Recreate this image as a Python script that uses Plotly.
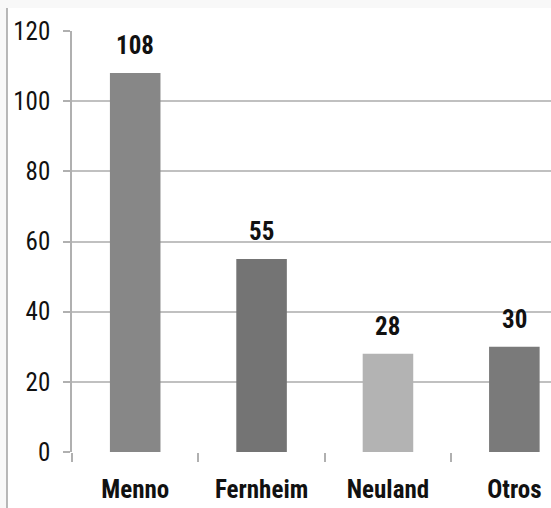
import plotly.graph_objects as go

# Data
categories = ["Menno", "Fernheim", "Neuland", "Otros"]
values = [108, 55, 28, 30]
bar_colors = ["#878787", "#747474", "#b3b3b3", "#7a7a7a"]
y_ticks = [0, 20, 40, 60, 80, 100, 120]

FONT = "Roboto Condensed, Liberation Sans Narrow, sans-serif"

fig = go.Figure()
fig.add_trace(go.Bar(
    x=categories,
    y=values,
    marker=dict(color=bar_colors, line=dict(width=0)),
    width=0.4,
    hoverinfo="x+y",
))

# value labels above the bars
for cat, val in zip(categories, values):
    fig.add_annotation(
        x=cat, y=val, text=f"<b>{val}</b>", showarrow=False,
        yanchor="bottom", yshift=11,
        font=dict(family=FONT, size=25, color="#111111"),
    )

# light frame strips along the top and left edges
fig.add_shape(type="rect", xref="paper", yref="paper",
              x0=-72 / 479, x1=1.0, y0=1 + 23 / 421, y1=1 + 31 / 421,
              fillcolor="#f8f8f8", line_width=0, layer="below")
fig.add_shape(type="rect", xref="paper", yref="paper",
              x0=-72 / 479, x1=-65 / 479, y0=-56 / 421, y1=1 + 31 / 421,
              fillcolor="#f8f8f8", line_width=0, layer="below")
fig.add_shape(type="line", xref="paper", yref="paper",
              x0=-65 / 479, x1=-65 / 479, y0=-56 / 421, y1=1 + 23 / 421,
              line=dict(color="#a0a0a0", width=1.5))

fig.update_layout(
    width=551, height=508,
    margin=dict(l=72, r=0, t=31, b=56),
    paper_bgcolor="white", plot_bgcolor="white",
    showlegend=False,
    bargap=0.6,
    xaxis=dict(
        type="category",
        range=[-0.5, 3.29],
        tickson="boundaries",
        ticks="outside", ticklen=9, tickcolor="#b0b0b0", tickwidth=1.5,
        showgrid=False, showline=False, zeroline=False,
        tickfont=dict(family=FONT, size=25, color="#111111", weight="bold"),
        ticklabelstandoff=20,
    ),
    yaxis=dict(
        range=[0, 120],
        tickvals=y_ticks,
        ticks="outside", ticklen=7, tickcolor="#b0b0b0", tickwidth=1.5,
        showgrid=True, gridcolor="#c0c0c0", gridwidth=1.5,
        showline=True, linecolor="#b0b0b0", linewidth=1.5,
        zeroline=False,
        tickfont=dict(family=FONT, size=25, color="#111111"),
        ticklabelstandoff=8,
    ),
)

fig.write_html("out.html")
